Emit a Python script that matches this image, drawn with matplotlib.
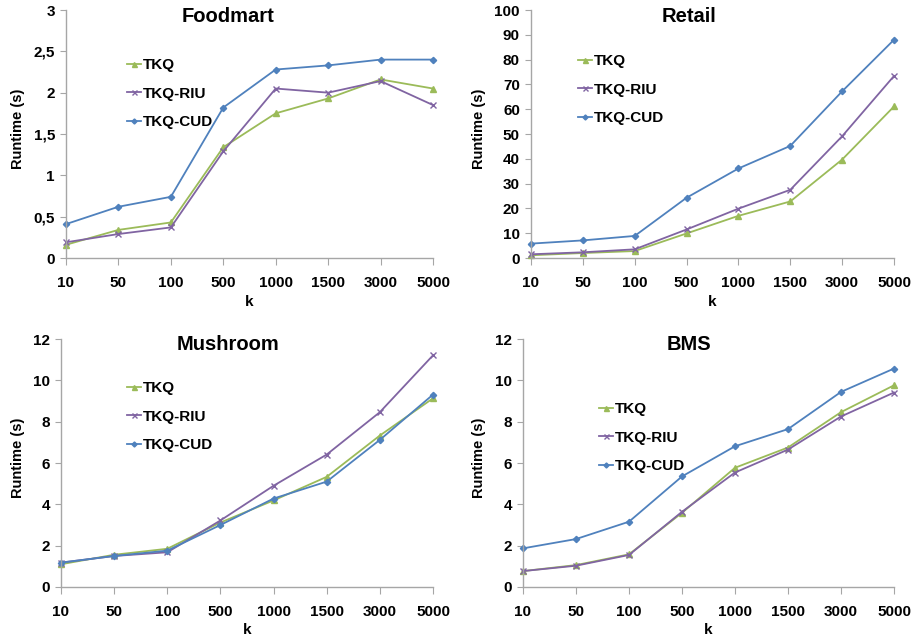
import matplotlib
matplotlib.use("Agg")
import matplotlib.pyplot as plt

plt.rcParams['font.family'] = ['Liberation Sans', 'DejaVu Sans']
plt.rcParams['font.weight'] = 'bold'

categories = ["10", "50", "100", "500", "1000", "1500", "3000", "5000"]
series_names = ["TKQ", "TKQ-RIU", "TKQ-CUD"]

foodmart_tkq = [0.16, 0.34, 0.43, 1.34, 1.75, 1.93, 2.16, 2.05]
foodmart_riu = [0.19, 0.29, 0.37, 1.29, 2.05, 2.00, 2.14, 1.85]
foodmart_cud = [0.41, 0.62, 0.74, 1.82, 2.28, 2.33, 2.40, 2.40]

retail_tkq = [1.1, 2.0, 2.8, 9.9, 17.0, 22.8, 39.7, 61.1]
retail_riu = [1.5, 2.3, 3.5, 11.5, 19.9, 27.5, 49.1, 73.4]
retail_cud = [5.8, 7.1, 8.9, 24.3, 36.1, 45.2, 67.2, 88.0]

mushroom_tkq = [1.10, 1.56, 1.85, 3.12, 4.19, 5.33, 7.33, 9.13]
mushroom_riu = [1.18, 1.50, 1.68, 3.22, 4.90, 6.41, 8.46, 11.21]
mushroom_cud = [1.18, 1.50, 1.76, 3.00, 4.28, 5.10, 7.12, 9.31]

bms_tkq = [0.77, 1.06, 1.58, 3.59, 5.77, 6.75, 8.46, 9.76]
bms_riu = [0.77, 1.03, 1.55, 3.64, 5.54, 6.65, 8.25, 9.41]
bms_cud = [1.87, 2.32, 3.16, 5.35, 6.81, 7.64, 9.44, 10.57]

foodmart_yticks = [0, 0.5, 1, 1.5, 2, 2.5, 3]
foodmart_ylabels = ["0", "0,5", "1", "1,5", "2", "2,5", "3"]
retail_yticks = [0, 10, 20, 30, 40, 50, 60, 70, 80, 90, 100]
mush_yticks = [0, 2, 4, 6, 8, 10, 12]
bms_yticks = [0, 2, 4, 6, 8, 10, 12]

colors = ["#9BBB59", "#8064A2", "#4F81BD"]
markers = ["^", "x", "D"]
msizes = [4.5, 4.5, 3.2]

W, H = 912, 639
fig = plt.figure(figsize=(W / 100, H / 100), dpi=100)

def add_ax(l, t, r, b):
    return fig.add_axes([l / W, 1 - b / H, (r - l) / W, (b - t) / H])

panels = [
    dict(title="Foodmart", box=(66, 10, 433, 258), data=[foodmart_tkq, foodmart_riu, foodmart_cud],
         yticks=foodmart_yticks, ylabels=foodmart_ylabels, leg=(127, 58), ylab_x=18, k_y=302, tx=228),
    dict(title="Retail", box=(531, 10, 894, 258), data=[retail_tkq, retail_riu, retail_cud],
         yticks=retail_yticks, ylabels=[str(v) for v in retail_yticks], leg=(578, 54), ylab_x=479, k_y=302, tx=689),
    dict(title="Mushroom", box=(61, 339, 433, 587), data=[mushroom_tkq, mushroom_riu, mushroom_cud],
         yticks=mush_yticks, ylabels=[str(v) for v in mush_yticks], leg=(127, 381), ylab_x=18, k_y=630, tx=228),
    dict(title="BMS", box=(523, 339, 894, 587), data=[bms_tkq, bms_riu, bms_cud],
         yticks=bms_yticks, ylabels=[str(v) for v in bms_yticks], leg=(599, 402), ylab_x=479, k_y=630, tx=689),
]

axis_color = "#A6A6A6"
x = list(range(len(categories)))

for p in panels:
    l, t, r, b = p["box"]
    ax = add_ax(l, t, r, b)
    handles = []
    for i, ys in enumerate(p["data"]):
        h, = ax.plot(x, ys, color=colors[i], marker=markers[i], markersize=msizes[i],
                     markeredgewidth=1.0, linewidth=1.3, label=series_names[i], clip_on=False)
        handles.append(h)
    ax.set_xlim(0, len(categories) - 1)
    ax.set_ylim(p["yticks"][0], p["yticks"][-1])
    ax.set_xticks(x)
    ax.set_xticklabels(categories)
    ax.set_yticks(p["yticks"])
    ax.set_yticklabels(p["ylabels"])
    for s in ["top", "right"]:
        ax.spines[s].set_visible(False)
    for s in ["left", "bottom"]:
        ax.spines[s].set_color(axis_color)
        ax.spines[s].set_linewidth(1.0)
    ax.tick_params(axis="x", direction="out", length=5, color=axis_color, labelsize=11, pad=8)
    ax.tick_params(axis="y", direction="out", length=4, color=axis_color, labelsize=11, pad=4)
    for lab in ax.get_xticklabels() + ax.get_yticklabels():
        lab.set_fontweight("bold")
    # title
    fig.text(p["tx"] / W, 1 - (t + 6) / H, p["title"], ha="center", va="center",
             fontsize=14.5, fontweight="bold")
    # y label
    fig.text(p["ylab_x"] / W, 1 - ((t + b) / 2 - 5) / H, "Runtime (s)", rotation=90,
             ha="center", va="center", fontsize=10.5, fontweight="bold")
    fig.text(((l + r) / 2) / W, 1 - p["k_y"] / H, "k", ha="center", va="center",
             fontsize=11, fontweight="bold")
    lx, ly = p["leg"]
    fig.legend(handles=handles, loc="upper left", bbox_to_anchor=(lx / W, 1 - ly / H),
               frameon=False, handlelength=0.9, handletextpad=0.15, labelspacing=0.95,
               borderpad=0, borderaxespad=0, prop=dict(size=11, weight="bold"), markerscale=0.8)

fig.savefig("out.png", dpi=100)
